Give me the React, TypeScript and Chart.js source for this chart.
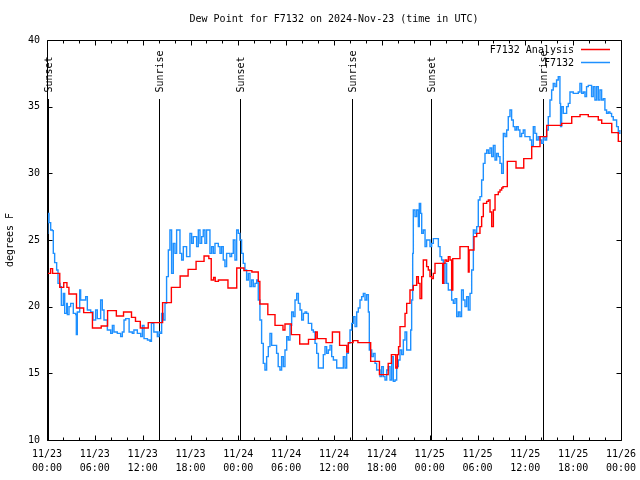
import React, { useEffect, useRef } from 'react';
import { Chart, registerables } from 'chart.js';

Chart.register(...registerables);

const TITLE = 'Dew Point for F7132 on 2024-Nov-23 (time in UTC)';
const Y_LABEL = 'degrees F';
const MONTH = 11;
const START_DAY = 23;
const X_MIN_HOURS = 0;
const X_MAX_HOURS = 72;
const X_MAJOR_STEP = 6;
const X_MINOR_STEP = 2;
const Y_MIN = 10;
const Y_MAX = 40;
const Y_STEP = 5;

const SERIES_LABELS = ['F7132 Analysis', 'F7132'];
const SERIES_COLORS = ['#ff0000', '#1e90ff'];

const sunEventHours = [0.16, 14.09, 24.21, 38.2, 48.21, 62.26];
const sunEventLabels = ['Sunset', 'Sunrise', 'Sunset', 'Sunrise', 'Sunset', 'Sunrise'];

// [hours since 11/23 00:00 UTC, dew point °F]
const analysisSeries: [number, number][] = [
  [0, 22.5], [0.45, 22.85], [0.7, 22.5], [1.6, 21.45], [2.1, 21.8], [2.5, 21.45], [2.75, 20.95],
  [3.7, 19.9], [4.6, 19.55], [5.7, 18.4], [6.8, 18.55], [7.6, 19.7], [8.7, 19.3], [9.6, 19.6],
  [10.6, 19.2], [11.1, 18.9], [11.7, 18.4], [12.7, 18.8], [14.5, 20.3], [15.6, 21.45], [16.7, 22.3],
  [17.7, 22.8], [18.7, 23.4], [19.7, 23.8], [20.3, 23.6], [20.6, 22.0], [20.9, 22.2], [21.1, 21.9],
  [21.5, 22.0], [22.7, 21.4], [23.8, 22.9], [24.7, 22.7], [25.7, 22.6], [26.5, 21.9], [26.7, 20.2],
  [27.7, 19.4], [28.6, 18.6], [29.6, 18.25], [29.85, 18.7], [30.65, 17.9], [31.7, 17.2], [32.8, 17.55],
  [33.7, 18.1], [33.9, 17.6], [35.0, 17.3], [35.8, 18.1], [36.7, 17.1], [37.6, 16.6], [37.8, 17.3],
  [38.4, 17.45], [39.0, 17.3], [40.6, 15.9], [41.7, 14.9], [42.8, 15.75], [43.2, 16.4], [43.75, 15.4],
  [43.95, 16.4], [44.1, 17.0], [44.28, 18.5], [44.91, 19.5], [45.12, 20.25], [45.53, 21.25],
  [45.95, 21.6], [46.37, 22.25], [46.58, 21.75], [46.79, 20.6], [47.0, 22.25], [47.2, 23.5],
  [47.62, 23.0], [47.83, 22.75], [48.04, 22.25], [48.25, 22.1], [48.46, 22.5], [48.67, 23.25],
  [49.63, 21.75], [49.75, 23.25], [49.92, 23.5], [50.13, 23.4], [50.34, 23.75], [50.55, 23.5],
  [50.76, 21.25], [50.9, 23.6], [51.8, 24.5], [52.85, 22.6], [52.95, 24.25], [53.56, 25.25],
  [53.9, 25.5], [54.31, 26.0], [54.52, 26.75], [54.73, 27.75], [55.15, 27.9], [55.36, 28.0],
  [55.57, 27.1], [55.78, 26.0], [55.99, 27.25], [56.2, 28.4], [56.61, 28.6], [56.82, 28.75],
  [57.03, 28.9], [57.2, 29.0], [57.74, 30.9], [58.83, 30.4], [59.8, 31.1], [60.8, 32.0],
  [61.84, 32.75], [62.68, 33.6], [64.56, 33.75], [65.82, 34.25], [66.86, 34.4], [67.9, 34.25],
  [69.15, 34.0], [69.58, 33.75], [70.84, 33.05], [71.66, 32.4], [72.0, 32.4],
];

const stationSeries: [number, number][] = [
  [0.0, 25.5], [0.1, 27.0], [0.25, 26.3], [0.46, 25.75], [0.67, 25.7], [0.79, 24.0], [0.96, 23.3],
  [1.21, 22.75], [1.38, 21.75], [1.63, 21.5], [1.8, 20.1], [2.05, 21.0], [2.22, 19.5], [2.47, 20.25],
  [2.55, 19.4], [2.76, 20.0], [2.97, 20.25], [3.3, 19.5], [3.6, 19.4], [3.68, 17.9], [3.8, 19.6],
  [4.1, 21.25], [4.22, 20.5], [4.56, 20.5], [4.85, 20.75], [5.06, 19.75], [5.48, 19.6], [5.77, 19.0],
  [6.1, 19.75], [6.31, 19.1], [6.73, 20.5], [6.94, 19.75], [7.15, 19.0], [7.57, 18.25], [7.99, 18.0],
  [8.2, 18.6], [8.4, 18.1], [8.82, 18.0], [9.24, 17.75], [9.45, 18.1], [9.66, 19.0], [9.87, 19.1],
  [10.3, 18.1], [10.7, 18.0], [10.9, 18.25], [11.33, 18.0], [11.75, 17.75], [11.96, 18.6],
  [12.17, 17.6], [12.6, 17.5], [12.92, 17.4], [13.1, 18.75], [13.4, 18.1], [13.84, 17.75],
  [14.05, 18.1], [14.17, 18.0], [14.38, 19.5], [14.59, 19.0], [14.8, 20.25], [15.0, 22.25],
  [15.22, 24.25], [15.42, 25.75], [15.63, 22.5], [15.84, 24.75], [16.05, 24.0], [16.26, 25.75],
  [16.68, 24.0], [16.89, 23.5], [17.1, 24.5], [17.51, 23.75], [17.93, 25.5], [18.14, 24.75],
  [18.35, 25.25], [18.77, 24.5], [18.98, 25.75], [19.19, 24.75], [19.4, 25.25], [19.6, 25.75],
  [19.81, 24.75], [20.02, 25.75], [20.44, 24.0], [20.65, 24.5], [20.86, 24.0], [21.07, 24.75],
  [21.49, 24.5], [21.7, 24.0], [21.9, 24.5], [22.11, 23.5], [22.32, 23.0], [22.53, 24.0],
  [22.95, 23.75], [23.16, 24.0], [23.37, 25.0], [23.58, 23.5], [23.79, 25.75], [24.0, 25.5],
  [24.2, 25.0], [24.41, 24.0], [24.62, 23.25], [24.83, 22.75], [25.04, 22.0], [25.25, 22.5],
  [25.46, 21.5], [25.67, 22.0], [25.88, 21.5], [26.09, 21.75], [26.3, 22.0], [26.5, 20.5],
  [26.71, 19.0], [26.92, 17.25], [27.13, 15.75], [27.34, 15.25], [27.55, 16.25], [27.76, 17.0],
  [27.97, 18.0], [28.18, 17.1], [28.8, 16.5], [29.0, 15.5], [29.22, 15.25], [29.43, 16.25],
  [29.64, 15.5], [29.85, 16.75], [30.07, 17.75], [30.27, 17.5], [30.48, 18.6], [30.69, 19.6],
  [30.9, 19.25], [31.11, 20.5], [31.32, 21.0], [31.53, 20.25], [31.74, 19.75], [31.95, 19.0],
  [32.16, 19.5], [32.37, 19.6], [32.57, 19.5], [32.78, 18.75], [33.2, 18.25], [33.41, 18.1],
  [33.62, 17.25], [33.83, 16.5], [34.04, 15.4], [34.66, 16.4], [34.87, 17.0], [35.08, 16.5],
  [35.29, 16.75], [35.5, 17.1], [35.71, 16.25], [35.92, 16.0], [36.34, 15.4], [37.17, 16.25],
  [37.38, 15.4], [37.59, 16.5], [37.8, 17.25], [38.01, 18.25], [38.22, 18.75], [38.43, 19.25],
  [38.64, 18.5], [38.85, 19.6], [39.05, 19.9], [39.26, 20.5], [39.47, 20.75], [39.68, 21.0],
  [39.89, 20.5], [40.1, 20.9], [40.31, 19.6], [40.43, 16.75], [40.73, 16.25], [40.94, 16.5],
  [41.15, 15.75], [41.35, 15.25], [41.77, 14.75], [41.98, 15.5], [42.19, 14.75], [42.4, 14.5],
  [42.61, 15.25], [42.82, 15.5], [43.03, 14.5], [43.24, 16.25], [43.44, 14.4], [43.65, 14.5],
  [43.86, 15.5], [44.07, 16.0], [44.28, 16.75], [44.49, 16.4], [44.7, 17.5], [44.91, 18.1],
  [45.12, 16.75], [45.53, 16.75], [45.62, 18.25], [45.74, 20.5], [45.87, 24.0], [45.95, 27.25],
  [46.16, 26.75], [46.37, 27.25], [46.58, 26.0], [46.7, 27.75], [46.87, 27.0], [47.0, 25.5],
  [47.2, 25.75], [47.42, 24.5], [47.62, 25.0], [48.04, 24.5], [48.25, 24.75], [48.46, 25.1],
  [49.09, 24.5], [49.3, 23.75], [49.5, 23.5], [49.71, 21.75], [49.92, 23.25], [50.13, 21.75],
  [50.34, 21.25], [50.76, 20.5], [50.97, 20.25], [51.18, 20.6], [51.39, 19.25], [51.6, 19.6],
  [51.8, 19.25], [52.0, 21.25], [52.22, 20.5], [52.43, 20.0], [52.64, 20.75], [52.85, 19.75],
  [53.06, 21.0], [53.27, 22.75], [53.48, 25.75], [53.69, 25.5], [53.9, 26.0], [54.1, 28.0],
  [54.31, 28.25], [54.52, 29.5], [54.73, 30.75], [54.94, 31.5], [55.15, 31.75], [55.36, 31.5],
  [55.57, 31.9], [55.78, 31.25], [55.99, 32.1], [56.2, 31.0], [56.4, 31.5], [56.61, 31.25],
  [56.82, 30.75], [57.03, 30.0], [57.24, 33.0], [57.45, 32.75], [57.66, 33.25], [57.86, 34.25],
  [58.07, 34.75], [58.28, 34.0], [58.49, 33.5], [58.7, 33.25], [58.9, 33.5], [59.11, 33.25],
  [59.32, 32.75], [59.53, 33.0], [59.74, 33.25], [59.95, 32.75], [60.58, 32.5], [60.79, 32.1],
  [61.0, 33.5], [61.2, 33.0], [61.41, 32.5], [61.62, 32.75], [61.83, 32.5], [62.04, 32.25],
  [62.25, 32.75], [62.46, 32.5], [62.67, 33.25], [62.88, 34.25], [63.09, 35.5], [63.3, 36.25],
  [63.5, 36.75], [63.71, 36.5], [63.92, 37.0], [64.13, 37.25], [64.34, 35.25], [64.42, 33.5],
  [64.55, 35.0], [64.76, 34.5], [65.18, 35.0], [65.39, 35.25], [65.6, 36.1], [66.01, 36.0],
  [66.64, 36.1], [66.85, 36.75], [67.06, 36.0], [67.27, 36.1], [67.48, 35.75], [67.68, 36.5],
  [67.9, 36.6], [68.31, 35.75], [68.52, 36.5], [68.73, 35.5], [68.94, 36.5], [69.15, 35.5],
  [69.36, 36.25], [69.57, 35.5], [69.78, 35.6], [69.98, 34.75], [70.19, 34.5], [70.4, 34.6],
  [70.61, 34.5], [70.82, 34.25], [71.03, 34.0], [71.45, 33.5], [71.66, 33.0], [71.86, 33.25],
];

const FONT_FAMILY = '"DejaVu Sans Mono", "Liberation Mono", monospace';
const FONT = `10px ${FONT_FAMILY}`;

const pad2 = (n: number) => (n < 10 ? '0' + n : '' + n);

const overlayPlugin = {
  id: 'overlay',
  beforeDatasetsDraw(chart: any) {
    const { ctx, chartArea: a, scales } = chart;
    const x = scales.x;
    ctx.save();
    ctx.strokeStyle = '#000';
    ctx.lineWidth = 1;
    sunEventHours.forEach((h, i) => {
      const px = Math.round(x.getPixelForValue(h)) + 0.5;
      ctx.beginPath();
      ctx.moveTo(px, a.top + 59);
      ctx.lineTo(px, a.bottom);
      ctx.stroke();
      ctx.save();
      ctx.translate(px + 1, a.top + 52.5);
      ctx.rotate(-Math.PI / 2);
      ctx.font = FONT;
      ctx.fillStyle = '#000';
      ctx.textAlign = 'left';
      ctx.textBaseline = 'middle';
      ctx.fillText(sunEventLabels[i], 0, 0);
      ctx.restore();
    });
    ctx.restore();
  },
  afterDatasetsDraw(chart: any) {
    const { ctx, chartArea: a, scales } = chart;
    const x = scales.x;
    const y = scales.y;
    ctx.save();
    ctx.strokeStyle = '#000';
    ctx.lineWidth = 1;
    const L = Math.round(a.left) + 0.5;
    const R = Math.round(a.right) + 0.5;
    const T = Math.round(a.top) + 0.5;
    const B = Math.round(a.bottom) + 0.5;
    ctx.beginPath();
    ctx.rect(L, T, R - L, B - T);
    ctx.stroke();
    ctx.beginPath();
    for (let h = X_MIN_HOURS; h <= X_MAX_HOURS; h += X_MINOR_STEP) {
      const len = h % X_MAJOR_STEP === 0 ? 5 : 3;
      const px = Math.round(x.getPixelForValue(h)) + 0.5;
      ctx.moveTo(px, B);
      ctx.lineTo(px, B - len);
      ctx.moveTo(px, T);
      ctx.lineTo(px, T + len);
    }
    for (let v = Y_MIN; v <= Y_MAX; v += Y_STEP) {
      const py = Math.round(y.getPixelForValue(v)) + 0.5;
      ctx.moveTo(L, py);
      ctx.lineTo(L + 5, py);
      ctx.moveTo(R, py);
      ctx.lineTo(R - 5, py);
    }
    ctx.stroke();

    // legend
    ctx.font = FONT;
    ctx.textAlign = 'right';
    ctx.textBaseline = 'middle';
    chart.data.datasets.forEach((ds: any, i: number) => {
      const ly = a.top + 9.5 + i * 13;
      ctx.fillStyle = '#000';
      ctx.fillText(ds.label, a.right - 47, ly + 0.5);
      ctx.strokeStyle = ds.borderColor;
      ctx.lineWidth = 1.5;
      ctx.beginPath();
      ctx.moveTo(a.right - 40, ly);
      ctx.lineTo(a.right - 11, ly);
      ctx.stroke();
    });
    ctx.restore();
  },
};

export default function App() {
  const canvasRef = useRef<HTMLCanvasElement | null>(null);

  useEffect(() => {
    if (!canvasRef.current) return;
    Chart.defaults.font.family = FONT_FAMILY;
    Chart.defaults.font.size = 10;
    Chart.defaults.color = '#000';

    const chart = new Chart(canvasRef.current, {
      type: 'line',
      data: {
        datasets: [
          {
            label: SERIES_LABELS[0],
            data: analysisSeries.map(([h, v]) => ({ x: h, y: v })),
            borderColor: SERIES_COLORS[0],
            borderWidth: 1.4,
            pointRadius: 0,
            stepped: true,
            fill: false,
          },
          {
            label: SERIES_LABELS[1],
            data: stationSeries.map(([h, v]) => ({ x: h, y: v })),
            borderColor: SERIES_COLORS[1],
            borderWidth: 1.4,
            pointRadius: 0,
            stepped: true,
            fill: false,
          },
        ],
      },
      options: {
        animation: false,
        responsive: false,
        devicePixelRatio: 1,
        layout: { padding: { left: 0, right: 19, top: 0, bottom: 0 } },
        plugins: {
          legend: { display: false },
          tooltip: { enabled: false },
          title: {
            display: true,
            text: TITLE,
            fullSize: false,
            color: '#000',
            font: { size: 10, family: FONT_FAMILY, weight: 'normal' },
            padding: { top: 13, bottom: 15 },
          },
        },
        scales: {
          x: {
            type: 'linear',
            min: X_MIN_HOURS,
            max: X_MAX_HOURS,
            grid: { display: false, drawTicks: false },
            border: { display: false },
            ticks: {
              stepSize: X_MAJOR_STEP,
              autoSkip: false,
              maxRotation: 0,
              padding: 8,
              color: '#000',
              font: { size: 10, family: FONT_FAMILY, lineHeight: 1.36 },
              callback: (value: any) => {
                const h = Number(value);
                const day = START_DAY + Math.floor(h / 24);
                const hr = h % 24;
                return [`${MONTH}/${day}`, `${pad2(hr)}:00`];
              },
            },
            afterFit: (scale: any) => {
              scale.height = 40;
              scale.paddingLeft = 0;
              scale.paddingRight = 0;
            },
          },
          y: {
            min: Y_MIN,
            max: Y_MAX,
            grid: { display: false, drawTicks: false },
            border: { display: false },
            ticks: {
              stepSize: Y_STEP,
              padding: 7,
              color: '#000',
              font: { size: 10, family: FONT_FAMILY },
            },
            title: {
              display: true,
              text: Y_LABEL,
              color: '#000',
              font: { size: 10, family: FONT_FAMILY },
              padding: { top: 4, bottom: 0 },
            },
            afterFit: (scale: any) => {
              scale.width = 47;
              scale.paddingTop = 0;
              scale.paddingBottom = 0;
            },
          },
        },
      },
      plugins: [overlayPlugin],
    } as any);

    return () => chart.destroy();
  }, []);

  return (
    <div style={{ position: 'absolute', left: 0, top: 0, width: 640, height: 480, background: '#fff' }}>
      <canvas ref={canvasRef} width={640} height={480} />
    </div>
  );
}
